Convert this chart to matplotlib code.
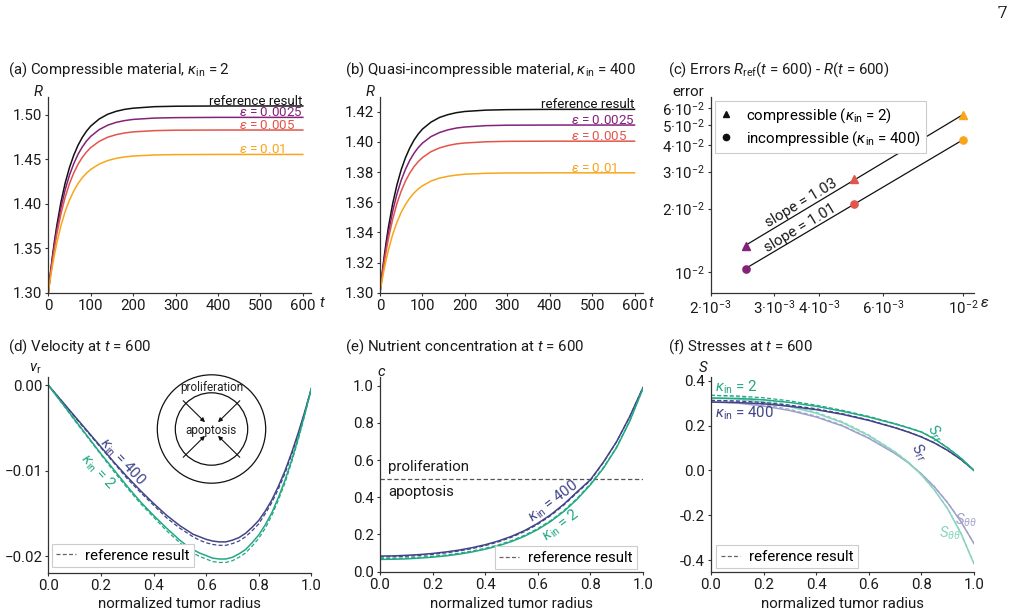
import numpy as np
import matplotlib
matplotlib.use("Agg")
import matplotlib.pyplot as plt
from matplotlib.lines import Line2D
from matplotlib.patches import Circle
from matplotlib.ticker import FixedLocator, NullLocator, FuncFormatter

plt.rcParams['font.family'] = ['Roboto', 'DejaVu Sans']
plt.rcParams['mathtext.fontset'] = 'custom'
plt.rcParams['mathtext.rm'] = 'Roboto'
plt.rcParams['mathtext.it'] = 'Roboto:italic'
plt.rcParams['mathtext.bf'] = 'Roboto:bold'
plt.rcParams['mathtext.sf'] = 'Roboto'
FS = 10.8
FS_LAB = 9.6
plt.rcParams['font.size'] = FS

# ---------------- data ----------------
T = [0, 5, 10, 15, 20, 30, 40, 50, 60, 70, 80, 90, 100, 120, 140, 160, 180, 200, 250, 300, 400, 600]

a_ref = [1.3000, 1.3220, 1.3417, 1.3593, 1.3752, 1.4021, 1.4235, 1.4406, 1.4543, 1.4654, 1.4742, 1.4813, 1.4870, 1.4950, 1.5003, 1.5036, 1.5058, 1.5071, 1.5088, 1.5093, 1.5096, 1.5096]
a_e0025 = [1.3000, 1.3207, 1.3392, 1.3557, 1.3707, 1.3958, 1.4159, 1.4321, 1.4448, 1.4553, 1.4635, 1.4702, 1.4755, 1.4831, 1.4880, 1.4912, 1.4932, 1.4945, 1.4960, 1.4965, 1.4968, 1.4968]
a_e005 = [1.3000, 1.3192, 1.3363, 1.3517, 1.3656, 1.3889, 1.4076, 1.4225, 1.4344, 1.4441, 1.4517, 1.4579, 1.4629, 1.4699, 1.4745, 1.4774, 1.4793, 1.4805, 1.4819, 1.4824, 1.4826, 1.4826]
a_e01 = [1.3000, 1.3163, 1.3309, 1.3439, 1.3557, 1.3756, 1.3914, 1.4041, 1.4142, 1.4225, 1.4290, 1.4342, 1.4384, 1.4444, 1.4483, 1.4508, 1.4524, 1.4534, 1.4546, 1.4550, 1.4552, 1.4552]

b_ref = [1.3000, 1.3128, 1.3242, 1.3344, 1.3437, 1.3592, 1.3716, 1.3816, 1.3895, 1.3959, 1.4011, 1.4052, 1.4085, 1.4131, 1.4162, 1.4181, 1.4194, 1.4202, 1.4211, 1.4214, 1.4216, 1.4216]
b_e0025 = [1.3000, 1.3117, 1.3221, 1.3315, 1.3399, 1.3542, 1.3655, 1.3746, 1.3818, 1.3877, 1.3924, 1.3962, 1.3992, 1.4035, 1.4062, 1.4080, 1.4092, 1.4099, 1.4108, 1.4111, 1.4112, 1.4112]
b_e005 = [1.3000, 1.3106, 1.3200, 1.3284, 1.3361, 1.3489, 1.3592, 1.3674, 1.3740, 1.3793, 1.3835, 1.3869, 1.3896, 1.3935, 1.3960, 1.3976, 1.3987, 1.3993, 1.4001, 1.4004, 1.4005, 1.4005]
b_e01 = [1.3000, 1.3083, 1.3158, 1.3225, 1.3285, 1.3387, 1.3468, 1.3533, 1.3585, 1.3627, 1.3661, 1.3688, 1.3709, 1.3740, 1.3760, 1.3772, 1.3780, 1.3786, 1.3792, 1.3794, 1.3795, 1.3795]

eps_values = [0.0025, 0.005, 0.01]
err_compressible = [0.01334, 0.0276, 0.0557]
err_incompressible = [0.01037, 0.0211, 0.0424]

XD = [0.0, 0.05, 0.1, 0.15, 0.2, 0.25, 0.3, 0.35, 0.4, 0.45, 0.475, 0.5, 0.525, 0.55, 0.575,
      0.6, 0.625, 0.65, 0.675, 0.7, 0.725, 0.75, 0.775, 0.8, 0.825, 0.85, 0.875, 0.9, 0.925,
      0.95, 0.975, 1.0]
v_400 = [0, -0.0018, -0.0036, -0.0054, -0.0072, -0.0090, -0.0107, -0.0123, -0.0138, -0.0152,
         -0.0158, -0.0164, -0.0169, -0.0174, -0.0177, -0.0180, -0.0182, -0.0183, -0.0183, -0.0181,
         -0.0178, -0.0173, -0.0166, -0.0158, -0.0147, -0.0134, -0.0118, -0.0100, -0.0079, -0.0056,
         -0.0031, -0.0004]
v_2 = [0, -0.0020, -0.0040, -0.0060, -0.0080, -0.0099, -0.0118, -0.0136, -0.0152, -0.0167,
       -0.0174, -0.0181, -0.0187, -0.0192, -0.0196, -0.0199, -0.0202, -0.0203, -0.0203, -0.0201,
       -0.0197, -0.0192, -0.0184, -0.0175, -0.0163, -0.0149, -0.0131, -0.0111, -0.0088, -0.0062,
       -0.0034, -0.0004]
v_400_ref = [0, -0.0018, -0.0037, -0.0055, -0.0073, -0.0091, -0.0109, -0.0125, -0.0140, -0.0155,
             -0.0161, -0.0167, -0.0172, -0.0177, -0.0181, -0.0184, -0.0186, -0.0187, -0.0187, -0.0185,
             -0.0182, -0.0177, -0.0170, -0.0162, -0.0150, -0.0137, -0.0121, -0.0103, -0.0081, -0.0058,
             -0.0032, -0.0004]
v_2_ref = [0, -0.0020, -0.0041, -0.0061, -0.0081, -0.0101, -0.0120, -0.0138, -0.0154, -0.0170,
           -0.0177, -0.0184, -0.0190, -0.0196, -0.0200, -0.0203, -0.0206, -0.0207, -0.0207, -0.0205,
           -0.0201, -0.0196, -0.0188, -0.0179, -0.0167, -0.0152, -0.0134, -0.0114, -0.0090, -0.0064,
           -0.0035, -0.0004]

XE = [0.0, 0.05, 0.1, 0.15, 0.2, 0.25, 0.3, 0.35, 0.4, 0.45, 0.5, 0.55, 0.6, 0.65, 0.7, 0.75, 0.8, 0.85, 0.9, 0.95, 1.0]
c_400 = [0.084, 0.085, 0.088, 0.092, 0.098, 0.106, 0.116, 0.129, 0.145, 0.165, 0.190, 0.221, 0.260, 0.307, 0.364, 0.430, 0.494, 0.590, 0.700, 0.835, 0.990]
c_2 = [0.066, 0.067, 0.069, 0.073, 0.078, 0.085, 0.094, 0.106, 0.121, 0.139, 0.162, 0.191, 0.227, 0.271, 0.325, 0.390, 0.467, 0.557, 0.668, 0.810, 0.985]
c_400_ref = [0.079, 0.080, 0.083, 0.087, 0.093, 0.101, 0.111, 0.124, 0.140, 0.160, 0.185, 0.216, 0.255, 0.302, 0.359, 0.425, 0.490, 0.588, 0.699, 0.834, 0.990]
c_2_ref = [0.071, 0.072, 0.074, 0.078, 0.083, 0.090, 0.099, 0.111, 0.126, 0.144, 0.167, 0.196, 0.232, 0.276, 0.330, 0.395, 0.472, 0.561, 0.671, 0.812, 0.986]

XF = [0.0, 0.1, 0.2, 0.3, 0.4, 0.5, 0.6, 0.7, 0.75, 0.8, 0.85, 0.9, 0.95, 1.0]
srr_2 = [0.323, 0.321, 0.315, 0.303, 0.286, 0.264, 0.238, 0.207, 0.190, 0.171, 0.140, 0.100, 0.055, 0.0]
srr_2_ref = [0.335, 0.332, 0.324, 0.310, 0.291, 0.268, 0.241, 0.209, 0.191, 0.172, 0.141, 0.101, 0.055, 0.0]
srr_400 = [0.305, 0.303, 0.297, 0.286, 0.271, 0.250, 0.223, 0.190, 0.171, 0.149, 0.122, 0.089, 0.049, 0.0]
srr_400_ref = [0.3125, 0.310, 0.303, 0.291, 0.275, 0.253, 0.225, 0.191, 0.172, 0.150, 0.123, 0.089, 0.049, 0.0]
stt_2 = [0.323, 0.318, 0.305, 0.284, 0.255, 0.213, 0.155, 0.081, 0.036, -0.020, -0.088, -0.172, -0.280, -0.417]
stt_2_ref = [0.335, 0.329, 0.314, 0.291, 0.260, 0.217, 0.158, 0.083, 0.038, -0.019, -0.087, -0.171, -0.279, -0.416]
stt_400 = [0.305, 0.300, 0.287, 0.267, 0.238, 0.198, 0.143, 0.075, 0.034, -0.016, -0.074, -0.145, -0.228, -0.327]
stt_400_ref = [0.3125, 0.307, 0.293, 0.272, 0.242, 0.201, 0.145, 0.076, 0.035, -0.015, -0.073, -0.144, -0.227, -0.326]

# ---------------- style ----------------
W, H = 1017, 615
C_REF = '#111111'
C_E1 = '#842179'
C_E2 = '#e2554a'
C_E3 = '#f9a51b'
C400 = '#414487'
C2 = '#22a884'
C400L = '#a0a2cc'
C2L = '#88d5be'
SPINE = '#333333'
LW = 1.1
DASH = (0, (3.2, 1.8))

fig = plt.figure(figsize=(W / 100, H / 100), dpi=100)


def px(x, y):
    return (x / W, 1 - y / H)


def make_ax(left, top, width=263, height=196):
    ax = fig.add_axes([left / W, 1 - (top + height) / H, width / W, height / H])
    for s in ['top', 'right']:
        ax.spines[s].set_visible(False)
    for s in ['left', 'bottom']:
        ax.spines[s].set_color(SPINE)
        ax.spines[s].set_linewidth(0.9)
    ax.tick_params(direction='out', length=2.5, width=0.8, pad=1.8, colors=SPINE,
                   labelcolor='#1a1a1a', labelsize=FS)
    return ax


def ftext(x, y, s, **kw):
    kw.setdefault('fontsize', FS)
    kw.setdefault('color', '#1a1a1a')
    fig.text(*px(x, y), s, **kw)


def ref_legend(loc, anchor):
    hd = [Line2D([], [], color='#666666', lw=0.9, ls=DASH)]
    lg = fig.legend(hd, ["reference result"], loc=loc, bbox_to_anchor=px(*anchor),
                    bbox_transform=fig.transFigure, fontsize=FS, frameon=True, fancybox=False,
                    edgecolor='#cccccc', framealpha=1, handlelength=1.3, handletextpad=0.6,
                    borderpad=0.3, borderaxespad=0)
    lg.get_frame().set_linewidth(0.8)
    return lg


KAP = r"$\kappa_{\mathrm{in}}$"

# ---------- (a) ----------
axa = make_ax(48.3, 96.7)
axa.plot(T, a_ref, color=C_REF, lw=LW)
axa.plot(T, a_e0025, color=C_E1, lw=LW)
axa.plot(T, a_e005, color=C_E2, lw=LW)
axa.plot(T, a_e01, color=C_E3, lw=LW)
axa.set_xlim(0, 620)
axa.set_ylim(1.30, 1.52)
axa.set_xticks([0, 100, 200, 300, 400, 500, 600])
axa.set_yticks([1.30, 1.35, 1.40, 1.45, 1.50])
axa.yaxis.set_major_formatter(FuncFormatter(lambda v, p: f"{v:.2f}"))
for x0, yv, s, c, ha in [(600, a_ref[-1], "reference result", C_REF, 'right'),
                         (450, a_e0025[-1], r"$\varepsilon$ = 0.0025", C_E1, 'left'),
                         (450, a_e005[-1], r"$\varepsilon$ = 0.005", C_E2, 'left'),
                         (450, a_e01[-1], r"$\varepsilon$ = 0.01", C_E3, 'left')]:
    axa.annotate(s, (x0, yv), xytext=(0, 1.0), textcoords='offset pixels', ha=ha,
                 va='baseline', color=c, fontsize=FS_LAB, annotation_clip=False)
ftext(8, 74, "(a) Compressible material, " + KAP + " = 2", va='baseline')
ftext(38.5, 91, r"$R$", ha='center', va='center')
ftext(322, 302.5, r"$t$", ha='center', va='center')

# ---------- (b) ----------
axb = make_ax(380, 96.7)
axb.plot(T, b_ref, color=C_REF, lw=LW)
axb.plot(T, b_e0025, color=C_E1, lw=LW)
axb.plot(T, b_e005, color=C_E2, lw=LW)
axb.plot(T, b_e01, color=C_E3, lw=LW)
axb.set_xlim(0, 620)
axb.set_ylim(1.30, 1.43)
axb.set_xticks([0, 100, 200, 300, 400, 500, 600])
axb.set_yticks([1.30, 1.32, 1.34, 1.36, 1.38, 1.40, 1.42])
axb.yaxis.set_major_formatter(FuncFormatter(lambda v, p: f"{v:.2f}"))
for x0, yv, s, c, ha in [(600, b_ref[-1], "reference result", C_REF, 'right'),
                         (450, b_e0025[-1], r"$\varepsilon$ = 0.0025", C_E1, 'left'),
                         (450, b_e005[-1], r"$\varepsilon$ = 0.005", C_E2, 'left'),
                         (450, b_e01[-1], r"$\varepsilon$ = 0.01", C_E3, 'left')]:
    axb.annotate(s, (x0, yv), xytext=(0, 1.0), textcoords='offset pixels', ha=ha,
                 va='baseline', color=c, fontsize=FS_LAB, annotation_clip=False)
ftext(345, 74, "(b) Quasi-incompressible material, " + KAP + " = 400", va='baseline')
ftext(370, 91, r"$R$", ha='center', va='center')
ftext(651, 302.5, r"$t$", ha='center', va='center')

# ---------- (c) ----------
axc = make_ax(710.7, 96.7)
axc.set_xscale('log')
axc.set_yscale('log')
axc.set_xlim(2e-3, 1.07e-2)
axc.set_ylim(0.797e-2, 6.8e-2)
le = np.log10(eps_values)
for errs, mk in [(err_compressible, '^'), (err_incompressible, 'o')]:
    p = np.polyfit(le, np.log10(errs), 1)
    xs = np.array([eps_values[0], eps_values[-1]])
    axc.plot(xs, 10 ** np.polyval(p, np.log10(xs)), color='#111111', lw=0.9, zorder=2)
    for e, v, c in zip(eps_values, errs, [C_E1, C_E2, C_E3]):
        axc.plot([e], [v], marker=mk, color=c, ms=5.5 if mk == '^' else 5.2,
                 ls='none', zorder=3)
axc.xaxis.set_major_locator(FixedLocator([2e-3, 3e-3, 4e-3, 6e-3, 1e-2]))
axc.xaxis.set_minor_locator(NullLocator())
axc.set_xticklabels(["2·10$^{-3}$", "3·10$^{-3}$", "4·10$^{-3}$", "6·10$^{-3}$", "10$^{-2}$"])
axc.yaxis.set_major_locator(FixedLocator([1e-2, 2e-2, 3e-2, 4e-2, 5e-2, 6e-2]))
axc.yaxis.set_minor_locator(NullLocator())
axc.set_yticklabels(["10$^{-2}$", "2·10$^{-2}$", "3·10$^{-2}$", "4·10$^{-2}$", "5·10$^{-2}$", "6·10$^{-2}$"])
hc = [Line2D([], [], marker='^', color='#111111', ls='none', ms=4.5),
      Line2D([], [], marker='o', color='#111111', ls='none', ms=4.5)]
legc = fig.legend(hc, ["compressible (" + KAP + " = 2)", "incompressible (" + KAP + " = 400)"],
                  loc='upper left', bbox_to_anchor=px(715, 101), bbox_transform=fig.transFigure,
                  fontsize=FS, frameon=True, fancybox=False, edgecolor='#cccccc',
                  framealpha=1, handlelength=0.8, handletextpad=0.9, borderpad=0.35,
                  labelspacing=0.25, borderaxespad=0)
legc.get_frame().set_linewidth(0.8)
ftext(801.5, 203.5, "slope = 1.03", rotation=31, ha='center', va='center',
      rotation_mode='anchor')
ftext(800, 228.5, "slope = 1.01", rotation=31, ha='center', va='center',
      rotation_mode='anchor')
ftext(668, 74, "(c) Errors " + r"$R_{\mathrm{ref}}$($t$ = 600) - $R$($t$ = 600)", va='baseline')
ftext(688, 91.5, "error", ha='center', va='center')
ftext(985, 302.5, r"$\varepsilon$", ha='center', va='center')

# ---------- (d) ----------
axd = make_ax(48.3, 376.7)
axd.plot(XD, v_400, color=C400, lw=LW)
axd.plot(XD, v_400_ref, color=C400, lw=0.9, ls=DASH)
axd.plot(XD, v_2, color=C2, lw=LW)
axd.plot(XD, v_2_ref, color=C2, lw=0.9, ls=DASH)
axd.set_xlim(0, 1.0)
axd.set_ylim(-0.0219, 0.001)
axd.set_xticks([0, 0.2, 0.4, 0.6, 0.8, 1.0])
axd.xaxis.set_major_formatter(FuncFormatter(lambda v, p: f"{v:.1f}"))
axd.set_yticks([-0.02, -0.01, 0.0])
axd.yaxis.set_major_formatter(FuncFormatter(lambda v, p: f"{v:.2f}".replace('-', '\u2212')))
ftext(122.5, 461.5, KAP + " = 400", color=C400, rotation=-47, ha='center', va='center',
      rotation_mode='anchor')
ftext(98.3, 471.5, KAP + " = 2", color=C2, rotation=-47, ha='center', va='center',
      rotation_mode='anchor')
ref_legend('lower left', (51.7, 567))
ftext(8, 350.7, "(d) Velocity at $t$ = 600", va='baseline')
ftext(35.5, 368.5, r"$v_{\mathrm{r}}$", ha='center', va='center')
ftext(180, 603.5, "normalized tumor radius", ha='center', va='center')

# inset diagram
cx, cy, half = 211.5, 429.0, 62
axi = fig.add_axes([(cx - half) / W, 1 - (cy + half) / H, 2 * half / W, 2 * half / H])
axi.set_xlim(-half, half)
axi.set_ylim(-half, half)
axi.set_aspect('equal')
axi.axis('off')
axi.add_patch(Circle((0, 0), 54.2, fill=False, ec='#111111', lw=0.9))
axi.add_patch(Circle((0, 0), 36.2, fill=False, ec='#111111', lw=0.9))
for sx in (-1, 1):
    for sy in (-1, 1):
        axi.annotate("", xy=(6.5 * sx, 6.8 * sy), xytext=(28.3 * sx, 28.3 * sy),
                     arrowprops=dict(arrowstyle='-|>', color='#111111', lw=0.8,
                                     mutation_scale=6, shrinkA=0, shrinkB=0))
axi.text(0, 41.5, "proliferation", ha='center', va='center', fontsize=8.5, color='#222222')
axi.text(0, -1.5, "apoptosis", ha='center', va='center', fontsize=8.5, color='#222222')

# ---------- (e) ----------
axe = make_ax(380, 376.7, height=195)
axe.axhline(0.5, color='#555555', lw=0.9, ls=(0, (3.5, 2)))
axe.plot(XE, c_400, color=C400, lw=LW)
axe.plot(XE, c_400_ref, color=C400, lw=0.9, ls=DASH)
axe.plot(XE, c_2, color=C2, lw=LW)
axe.plot(XE, c_2_ref, color=C2, lw=0.9, ls=DASH)
axe.set_xlim(0, 1.0)
axe.set_ylim(0, 1.048)
axe.set_xticks([0, 0.2, 0.4, 0.6, 0.8, 1.0])
axe.xaxis.set_major_formatter(FuncFormatter(lambda v, p: f"{v:.1f}"))
axe.set_yticks([0, 0.2, 0.4, 0.6, 0.8, 1.0])
axe.yaxis.set_major_formatter(FuncFormatter(lambda v, p: f"{v:.1f}"))
axe.text(0.032, 0.565, "proliferation", ha='left', va='center', fontsize=FS, color='#1a1a1a')
axe.text(0.032, 0.43, "apoptosis", ha='left', va='center', fontsize=FS, color='#1a1a1a')
ftext(553, 501.5, KAP + " = 400", color=C400, rotation=37, ha='center', va='center',
      rotation_mode='anchor')
ftext(561, 525, KAP + " = 2", color=C2, rotation=37, ha='center', va='center',
      rotation_mode='anchor')
ref_legend('lower right', (636.7, 569.3))
ftext(345, 350.7, "(e) Nutrient concentration at $t$ = 600", va='baseline')
ftext(381.7, 372, r"$c$", ha='center', va='center')
ftext(511, 603.5, "normalized tumor radius", ha='center', va='center')

# ---------- (f) ----------
axf = make_ax(711, 376.7, height=195)
axf.plot(XF, stt_400, color=C400L, lw=LW)
axf.plot(XF, stt_400_ref, color=C400L, lw=0.9, ls=DASH)
axf.plot(XF, stt_2, color=C2L, lw=LW)
axf.plot(XF, stt_2_ref, color=C2L, lw=0.9, ls=DASH)
axf.plot(XF, srr_400, color=C400, lw=LW)
axf.plot(XF, srr_400_ref, color=C400, lw=0.9, ls=DASH)
axf.plot(XF, srr_2, color=C2, lw=LW)
axf.plot(XF, srr_2_ref, color=C2, lw=0.9, ls=DASH)
axf.set_xlim(0, 1.0)
axf.set_ylim(-0.452, 0.418)
axf.set_xticks([0, 0.2, 0.4, 0.6, 0.8, 1.0])
axf.xaxis.set_major_formatter(FuncFormatter(lambda v, p: f"{v:.1f}"))
axf.set_yticks([-0.4, -0.2, 0.0, 0.2, 0.4])
axf.yaxis.set_major_formatter(FuncFormatter(lambda v, p: f"{v:.1f}"))
axf.text(0.015, 0.372, KAP + " = 2", color=C2, ha='left', va='center', fontsize=FS)
axf.text(0.015, 0.254, KAP + " = 400", color=C400, ha='left', va='center', fontsize=FS)
ftext(935, 433, r"$S_{rr}$", color=C2, rotation=-55, ha='center', va='center',
      rotation_mode='anchor')
ftext(919, 452, r"$S_{rr}$", color=C400, rotation=-55, ha='center', va='center',
      rotation_mode='anchor')
ftext(966, 520, r"$S_{\theta\theta}$", color=C400L, ha='center', va='center')
ftext(950, 533, r"$S_{\theta\theta}$", color=C2L, ha='center', va='center')
ref_legend('lower left', (716, 568.3))
ftext(668, 350.7, "(f) Stresses at $t$ = 600", va='baseline')
ftext(703, 368, r"$S$", ha='center', va='center')
ftext(842.5, 603.5, "normalized tumor radius", ha='center', va='center')

# page number
fig.text(*px(1002.5, 13.5), "7", fontsize=12.5, family='DejaVu Serif', ha='center',
         va='center', color='#111111')

fig.savefig("out.png", dpi=100)
